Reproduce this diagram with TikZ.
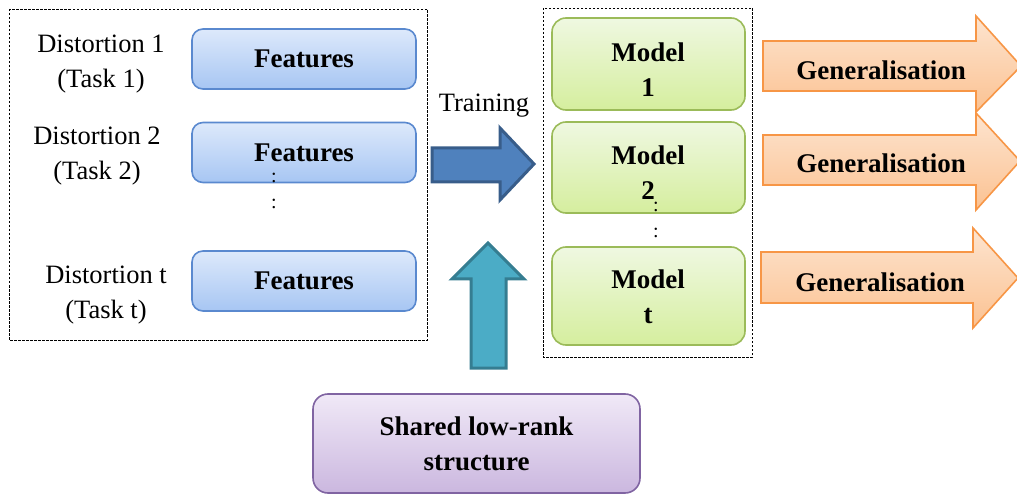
\documentclass[tikz,border=0pt]{standalone}
\usepackage{fontspec}
\setmainfont{Liberation Serif}
\definecolor{feattop}{HTML}{DDE9FB}
\definecolor{featbot}{HTML}{A7C6F3}
\definecolor{featedge}{HTML}{5A89CF}
\definecolor{modtop}{HTML}{EFF8E1}
\definecolor{modbot}{HTML}{D5EE9E}
\definecolor{modedge}{HTML}{9BBB59}
\definecolor{gentop}{HTML}{FDE4CF}
\definecolor{genbot}{HTML}{FBC292}
\definecolor{genedge}{HTML}{F79646}
\definecolor{purtop}{HTML}{F0E9F7}
\definecolor{purbot}{HTML}{CBB7DF}
\definecolor{puredge}{HTML}{8064A2}
\definecolor{trainfill}{HTML}{4F81BD}
\definecolor{trainedge}{HTML}{385D8A}
\definecolor{sharefill}{HTML}{4BACC6}
\definecolor{shareedge}{HTML}{357D91}
\begin{document}
\begin{tikzpicture}[x=1pt,y=-1pt,
  lbl/.style={font=\fontsize{26.5}{35}\selectfont, align=center, inner sep=0pt},
  bold/.style={font=\fontsize{27}{35}\selectfont\bfseries, align=center, inner sep=0pt},
  dots/.style={font=\fontsize{20}{20}\selectfont, inner sep=0pt},
  frame/.style={draw, line width=0.8pt, dash pattern=on 2.5pt off 1.5pt},
  featbox/.style={bold, rounded corners=11pt, draw=featedge, line width=1.6pt,
    top color=feattop, bottom color=featbot, minimum width=224pt, minimum height=60pt},
  modbox/.style={rounded corners=14pt, draw=modedge, line width=1.6pt,
    top color=modtop, bottom color=modbot, minimum width=193pt},
  genarrow/.style={draw=genedge, line width=1.6pt, top color=gentop, bottom color=genbot, line join=miter},
  bigarrow/.style={line width=3pt, line join=miter}
]
\useasboundingbox (0,0) rectangle (1017,494);
\clip (0,0) rectangle (1017,494);

% dashed frames around the task column and the model column
\draw[frame] (9,9) rectangle (427,340);
\draw[frame] (543,8) rectangle (752,357);

% task labels and feature boxes
\node[lbl] (t1) at (101,64) {Distortion 1\\(Task 1)};
\node[lbl] (t2) at (97,156) {Distortion 2\\(Task 2)};
\node[lbl] (t3) at (106,295) {Distortion t\\(Task t)};
\node[featbox] (f1) at (304,59) {Features};
\node[featbox] (f2) at (304,152.5) {Features};
\node[featbox] (f3) at (304,281) {Features};
\node[dots] (fd1) at (274,178) {:};
\node[dots] (fd2) at (274,204) {:};

% training arrow
\node[lbl] (train) at (484,106) {Training};
\path[bigarrow, fill=trainfill, draw=trainedge]
  (432,148) -- (500,148) -- (500,128) -- (534,164) -- (500,200) -- (500,182) -- (432,182) -- cycle;

% model boxes
\node[modbox, minimum height=92pt] (m1) at (648.5,64) {};
\node[modbox, minimum height=91pt] (m2) at (648.5,167.5) {};
\node[modbox, minimum height=98pt] (m3) at (648.5,296) {};
\node[bold] (m1t) at (648,70) {Model\\1};
\node[bold] (m2t) at (648,173) {Model\\2};
\node[bold] (m3t) at (648,297) {Model\\t};
\node[dots] (md1) at (656,207) {:};
\node[dots] (md2) at (656,233) {:};

% generalisation arrows
\path[genarrow] (763,41) -- (976,41) -- (976,16) -- (1021,66) -- (976,112) -- (976,91) -- (763,91) -- cycle;
\node[bold] (g1) at (881,70) {Generalisation};
\path[genarrow] (763,135) -- (976,135) -- (976,113) -- (1020,161) -- (976,210) -- (976,185) -- (763,185) -- cycle;
\node[bold] (g2) at (881,163) {Generalisation};
\path[genarrow] (761,252) -- (973,252) -- (973,228) -- (1018,278) -- (973,328) -- (973,303) -- (761,303) -- cycle;
\node[bold] (g3) at (880,282) {Generalisation};

% shared structure and its arrow
\node[rounded corners=15pt, draw=puredge, line width=1.6pt, top color=purtop, bottom color=purbot,
  minimum width=327pt, minimum height=99pt] (sh) at (476.5,443.5) {};
\node[bold] (sht) at (476.5,444) {Shared low-rank\\structure};
\path[bigarrow, fill=sharefill, draw=shareedge]
  (471,368) -- (471,279) -- (452,279) -- (488,243) -- (524,279) -- (506,279) -- (506,368) -- cycle;
\end{tikzpicture}
\end{document}
